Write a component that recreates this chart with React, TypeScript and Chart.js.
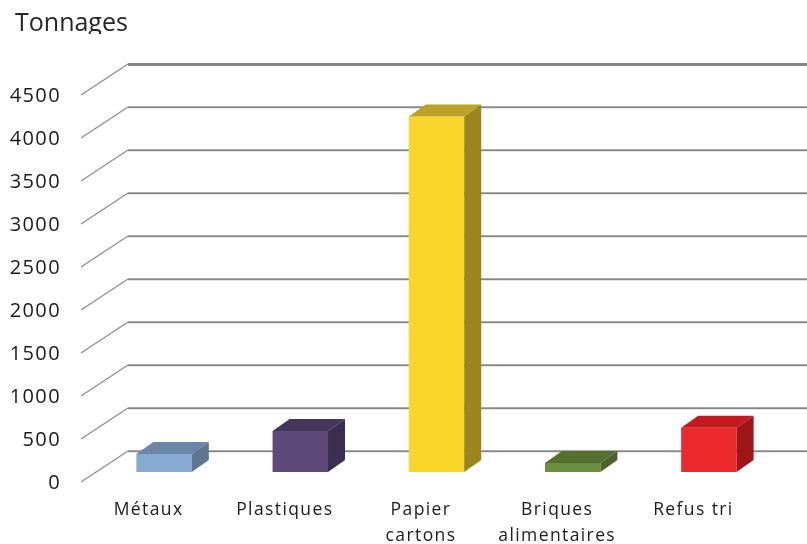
import React, { useEffect, useRef } from "react";
import { Chart, registerables } from "chart.js";

Chart.register(...registerables);

const categories: (string | string[])[] = ["Métaux", "Plastiques", ["Papier", "cartons"], ["Briques", "alimentaires"], "Refus tri"];
const tonnages = [210, 477, 4135, 105, 515];
const frontColors = ["#88a9d0", "#5d4a78", "#fad52a", "#6c8c3e", "#ec2a2d"];
const topColors = ["#6a86a6", "#45375c", "#bba228", "#55702f", "#c6191f"];
const sideColors = ["#5f7690", "#3b2e52", "#9c841e", "#4c6429", "#a01518"];

const DEPTH_X = 17;
const DEPTH_Y = 12;
const WALL_X = 47;
const WALL_UP = 21;
const WALL_DOWN = 10;
const WALL_LEFT = 81;
const TITLE_SHIFT = 7;

const letterSpacing = {
  id: "letterSpacing",
  beforeDraw(chart: any) {
    const { ctx } = chart;
    ctx.letterSpacing = "1.4px";
    const title = chart.titleBlock;
    if (title && !title.__wrapped) {
      const original = title.draw;
      title.draw = function (...args: any[]) {
        ctx.save();
        ctx.letterSpacing = "0px";
        ctx.translate(TITLE_SHIFT, 0);
        original.apply(title, args);
        ctx.restore();
      };
      title.__wrapped = true;
    }
  },
};

const wall = {
  id: "wall",
  beforeDatasetsDraw(chart: any) {
    const { ctx, scales, width } = chart;
    const y = scales.y;
    ctx.save();
    y.ticks.forEach((t: any, i: number) => {
      const py = y.getPixelForTick(i);
      const isTop = i === y.ticks.length - 1;
      const back = py - WALL_UP;
      ctx.beginPath();
      ctx.moveTo(WALL_LEFT, py + WALL_DOWN);
      ctx.lineTo(WALL_LEFT + WALL_X, back);
      ctx.strokeStyle = "#8f8f8f";
      ctx.lineWidth = 1.4;
      ctx.stroke();
      if (!isTop) {
        ctx.fillStyle = "#cfcfcf";
        ctx.fillRect(WALL_LEFT + WALL_X, back - 1, width, 2.5);
      }
      ctx.fillStyle = "#858585";
      ctx.fillRect(WALL_LEFT + WALL_X, isTop ? back - 1 : back - 0.5, width, isTop ? 3 : 1.5);
    });
    ctx.restore();
  },
};

const box3d = {
  id: "box3d",
  afterDatasetsDraw(chart: any) {
    const { ctx } = chart;
    const meta = chart.getDatasetMeta(0);
    ctx.save();
    meta.data.forEach((bar: any, i: number) => {
      const l = bar.x - bar.width / 2;
      const r = bar.x + bar.width / 2;
      const t = bar.y;
      const b = bar.base;
      ctx.fillStyle = topColors[i];
      ctx.beginPath();
      ctx.moveTo(l, t);
      ctx.lineTo(l + DEPTH_X, t - DEPTH_Y);
      ctx.lineTo(r + DEPTH_X, t - DEPTH_Y);
      ctx.lineTo(r, t);
      ctx.closePath();
      ctx.fill();
      ctx.fillStyle = sideColors[i];
      ctx.beginPath();
      ctx.moveTo(r, t);
      ctx.lineTo(r + DEPTH_X, t - DEPTH_Y);
      ctx.lineTo(r + DEPTH_X, b - DEPTH_Y);
      ctx.lineTo(r, b);
      ctx.closePath();
      ctx.fill();
    });
    ctx.restore();
  },
};

const titleCrop = {
  id: "titleCrop",
  afterDraw(chart: any) {
    const { ctx } = chart;
    ctx.save();
    ctx.fillStyle = "#ffffff";
    ctx.fillRect(0, 34, 200, 10);
    ctx.restore();
  },
};

export default function App() {
  const ref = useRef<HTMLCanvasElement>(null);
  useEffect(() => {
    document.body.style.margin = "0";
    document.body.style.background = "#ffffff";
    const chart = new Chart(ref.current!, {
      type: "bar",
      data: {
        labels: categories as any,
        datasets: [
          {
            data: tonnages,
            backgroundColor: frontColors,
            barPercentage: 0.407,
            categoryPercentage: 1,
          },
        ],
      },
      options: {
        responsive: false,
        animation: false,
        layout: { padding: { top: 0, right: 30, bottom: 0, left: 8 } },
        plugins: {
          legend: { display: false },
          tooltip: { enabled: false },
          title: {
            display: true,
            text: "Tonnages",
            align: "start",
            color: "#262626",
            font: { family: "Open Sans", size: 25, weight: "normal", lineHeight: 1.2 },
            padding: { top: 9, bottom: 46 },
          },
        },
        scales: {
          x: {
            grid: { display: false },
            border: { display: false },
            afterFit(s: any) {
              s.height = 72;
            },
            ticks: {
              color: "#1a1a1a",
              font: { family: "Open Sans", size: 17.5, lineHeight: 1.5 },
              labelOffset: -15.5,
              padding: 17,
              maxRotation: 0,
              autoSkip: false,
            },
          },
          y: {
            min: 0,
            max: 4500,
            grid: { display: false },
            border: { display: false },
            afterFit(s: any) {
              s.width = 88;
            },
            ticks: {
              stepSize: 500,
              color: "#1a1a1a",
              font: { family: "Open Sans", size: 20 },
              format: { useGrouping: false },
              labelOffset: 11,
              padding: 27,
            },
          },
        },
      },
      plugins: [letterSpacing, wall, box3d, titleCrop],
    } as any);
    return () => chart.destroy();
  }, []);
  return <canvas ref={ref} width={807} height={544} style={{ display: "block" }} />;
}
